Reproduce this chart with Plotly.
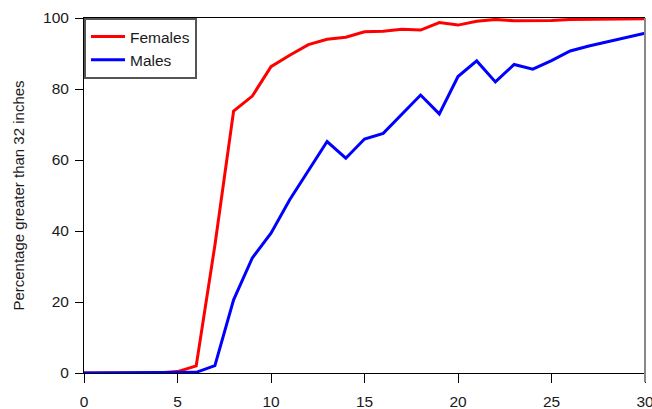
import plotly.graph_objects as go

ages = list(range(0, 31))
females = [0, 0, 0, 0, 0, 0.4, 2.0, 36.0, 73.8, 78.0, 86.3, 89.5, 92.5, 94.0, 94.6, 96.1,
           96.3, 96.8, 96.6, 98.7, 98.0, 99.1, 99.6, 99.2, 99.2, 99.3, 99.6, 99.7, 99.7, 99.8, 99.8]
males = [0, 0, 0, 0, 0, 0, 0.2, 2.1, 20.6, 32.4, 39.4, 48.8, 57.0, 65.2, 60.5, 65.9,
         67.5, 72.9, 78.3, 73.0, 83.5, 87.9, 82.0, 86.9, 85.6, 88.0, 90.7, 92.1, 93.3, 94.5, 95.7]

x_ticks = [0, 5, 10, 15, 20, 25, 30]
y_ticks = [0, 20, 40, 60, 80, 100]

font_family = "Liberation Sans, Arial, sans-serif"
text_color = "#1a1a1a"

fig = go.Figure()
fig.add_trace(go.Scatter(x=ages, y=females, mode="lines", name="Females",
                         line=dict(color="#ff0000", width=3)))
fig.add_trace(go.Scatter(x=ages, y=males, mode="lines", name="Males",
                         line=dict(color="#0000ff", width=3)))

fig.update_layout(
    width=652, height=409,
    margin=dict(l=84, r=7, t=18, b=36, autoexpand=False),
    plot_bgcolor="white", paper_bgcolor="white",
    font=dict(family=font_family, size=15, color=text_color),
    showlegend=True,
    legend=dict(x=0, y=1, xanchor="left", yanchor="top",
                bgcolor="white", bordercolor="#555555", borderwidth=2,
                font=dict(size=15.5, color=text_color),
                tracegroupgap=0, itemwidth=34),
    xaxis=dict(range=[0, 30], tickvals=x_ticks, showgrid=False, zeroline=False,
               showline=True, linecolor="black", linewidth=1, mirror=True,
               ticks="outside", ticklen=9, tickcolor="black", tickwidth=1,
               ticklabelstandoff=5, ticklabeloverflow="allow", automargin=False,
               tickfont=dict(size=15.5, color=text_color)),
    yaxis=dict(range=[0, 100], tickvals=y_ticks, showgrid=False, zeroline=False,
               showline=True, linecolor="black", linewidth=1,
               ticks="outside", ticklen=8, tickcolor="black", tickwidth=1,
               ticklabelstandoff=3, automargin=False,
               tickfont=dict(size=15.5, color=text_color),
               title=dict(text="Percentage greater than 32 inches", standoff=14,
                          font=dict(size=15, color=text_color))),
    shapes=[dict(type="line", xref="paper", yref="paper", x0=1, x1=1, y0=-0.026, y1=1,
                 line=dict(color="#888888", width=2))],
)

fig.write_html("out.html")
